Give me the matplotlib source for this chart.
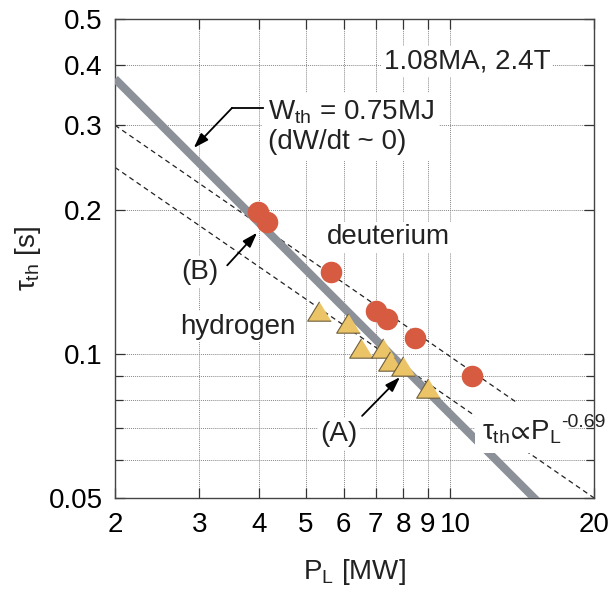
import numpy as np
import matplotlib
matplotlib.use("Agg")
import matplotlib.pyplot as plt
from matplotlib.ticker import FixedLocator, NullFormatter
from matplotlib.transforms import ScaledTranslation

plt.rcParams['font.family'] = ['Liberation Sans', 'DejaVu Sans']
plt.rcParams['mathtext.fontset'] = 'custom'
plt.rcParams['mathtext.rm'] = 'Liberation Sans'
plt.rcParams['mathtext.it'] = 'Liberation Sans'
plt.rcParams['mathtext.sf'] = 'Liberation Sans'
plt.rcParams['mathtext.fallback'] = 'stixsans'

# donnees
p_deut = [3.98, 4.15, 5.65, 7.0, 7.4, 8.45, 11.1]
tau_deut = [0.198, 0.188, 0.148, 0.123, 0.118, 0.108, 0.090]

p_hydr = [5.33, 6.12, 6.53, 7.24, 7.50, 7.99, 9.0]
tau_hydr = [0.123, 0.116, 0.103, 0.103, 0.0967, 0.0944, 0.0849]

w_th = 0.75            # MJ, tau = W / P
alpha = -0.69          # pente des droites en tirets
tau_up0 = 0.30         # tirets du haut a P = 2
tau_low0 = 0.245       # tirets du bas a P = 2

x_ticks = [2, 3, 4, 5, 6, 7, 8, 9, 10, 20]
y_ticks = [0.05, 0.1, 0.2, 0.3, 0.4, 0.5]
y_minor = [0.06, 0.07, 0.08, 0.09]

fig = plt.figure(figsize=(6.13, 5.93), dpi=100)
ax = fig.add_axes([115/613, 1-498/593, 479/613, 479/593])
ax.set_xscale('log')
ax.set_yscale('log')
ax.set_xlim(2, 20)
ax.set_ylim(0.05, 0.5)

# droites
p = np.array([2, 20])
ax.plot(p, w_th/p, color='#8c9098', lw=5.8, solid_capstyle='butt', zorder=3)
p_up = np.array([2, 13.9])
ax.plot(p_up, tau_up0*(p_up/2)**alpha, color='#222222', lw=0.9, ls=(0, (4, 3)), zorder=2)
ax.plot(p, tau_low0*(p/2)**alpha, color='#222222', lw=0.9, ls=(0, (4, 3)), zorder=2)

# points
ax.plot(p_deut, tau_deut, 'o', ms=14.5, color='#d65b41', mec='#d65b41', zorder=5)
ax.plot(p_hydr, tau_hydr, marker=[(0, 0.82), (-1, -0.82), (1, -0.82)], ls='none',
        ms=17, mfc='#ecc468', mec='#6e5e3c', mew=0.8, zorder=4)

# axes
ax.xaxis.set_major_locator(FixedLocator(x_ticks))
ax.xaxis.set_minor_locator(FixedLocator([]))
ax.set_xticklabels([str(v) for v in x_ticks])
ax.yaxis.set_major_locator(FixedLocator(y_ticks))
ax.yaxis.set_minor_locator(FixedLocator(y_minor))
ax.yaxis.set_minor_formatter(NullFormatter())
ax.set_yticklabels([str(v) for v in y_ticks])
ax.tick_params(which='both', direction='in', top=True, right=True, labelsize=20,
               color='#333333', width=0.9)
ax.tick_params(which='major', length=7)
ax.tick_params(which='minor', length=6)
ax.tick_params(axis='x', pad=10)
ax.tick_params(axis='y', pad=9)
ax.grid(True, which='both', color='#888888', ls=(0, (1, 1)), lw=0.7)
for s in ax.spines.values():
    s.set_color('#444444')
    s.set_linewidth(1.0)

# le "10" un peu decale a droite comme sur l'original
lab10 = ax.get_xticklabels()[x_ticks.index(10)]
lab10.set_transform(lab10.get_transform() + ScaledTranslation(4/72, 0, fig.dpi_scale_trans))

ax.set_xlabel(r'P$_{\rm L}$ [MW]', fontsize=20, labelpad=14, color='#222222')
ax.set_ylabel(r'$\tau_{\rm th}$ [s]', fontsize=20, labelpad=4, color='#222222')

# textes
box = dict(facecolor='white', edgecolor='none', pad=2)
fs = 20
ax.text(10.86, 0.408, '1.08MA, 2.4T', fontsize=fs, ha='center', va='center', bbox=box, zorder=3, color='#222222')
ax.text(4.17, 0.2975, 'W$_{\\rm th}$ = 0.75MJ\n(dW/dt ~ 0)', fontsize=fs, ha='left', va='center',
        bbox=dict(facecolor='white', edgecolor='none', pad=4), zorder=3, color='#222222', linespacing=1.15)
ax.text(7.43, 0.175, 'deuterium', fontsize=fs, ha='center', va='center', bbox=box, zorder=3, color='#222222')
ax.text(3.61, 0.114, 'hydrogen', fontsize=fs, ha='center', va='center', bbox=box, zorder=3, color='#222222')
ax.text(3.01, 0.148, '(B)', fontsize=fs, ha='center', va='center', bbox=box, zorder=3, color='#222222')
ax.text(5.87, 0.068, '(A)', fontsize=fs, ha='center', va='center', bbox=box, zorder=3, color='#222222')
t_law = ax.text(11.68, 0.0687, r'$\tau_{\rm th}\!\propto\!{\rm P}_{\rm L}$', fontsize=fs, ha='left', va='center',
                bbox=dict(facecolor='white', edgecolor='none', pad=5), zorder=3, clip_on=False, color='#222222')
ax.annotate('-0.69', xy=(1, 0.55), xycoords=t_law, xytext=(0, 0), textcoords='offset points',
            fontsize=14, ha='left', va='bottom', color='#222222', annotation_clip=False)

# fleches
arr = dict(arrowstyle='-|>,head_length=0.9,head_width=0.3', color='black', lw=1.3, shrinkA=0, shrinkB=0)
ax.plot([3.51, 4.07], [0.326, 0.326], color='black', lw=1.3, zorder=6)
ax.annotate('', xy=(2.92, 0.269), xytext=(3.51, 0.326), arrowprops=arr, zorder=6)
ax.annotate('', xy=(3.96, 0.179), xytext=(3.43, 0.153), arrowprops=arr, zorder=6)
ax.annotate('', xy=(7.87, 0.0894), xytext=(6.56, 0.0742), arrowprops=arr, zorder=6)

fig.savefig('out.png', dpi=100)
